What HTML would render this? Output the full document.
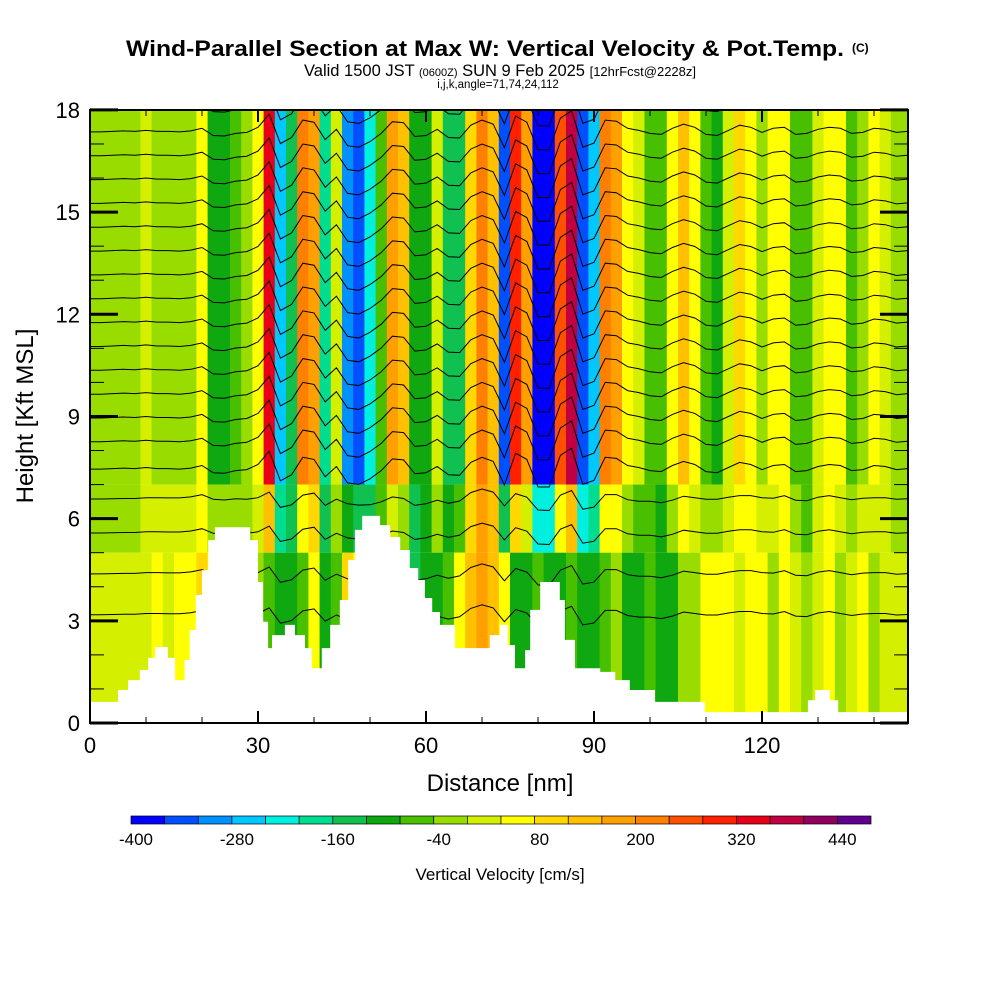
<!DOCTYPE html>
<html><head><meta charset="utf-8"><style>
body{margin:0;background:#fff;}
svg{display:block;font-family:"Liberation Sans",sans-serif;}
</style></head><body>
<svg id="c" width="1000" height="1000" viewBox="0 0 1000 1000">
<text x="126" y="56" font-size="22" font-weight="bold" textLength="718" lengthAdjust="spacingAndGlyphs">Wind-Parallel Section at Max W: Vertical Velocity &amp; Pot.Temp.</text>
<text x="852" y="52" font-size="12" font-weight="bold">(C)</text>
<text x="500" y="76" text-anchor="middle" font-size="16.5">Valid 1500 JST <tspan font-size="11">(0600Z)</tspan> SUN 9 Feb 2025 <tspan font-size="13">[12hrFcst@2228z]</tspan></text>
<text x="498" y="88" text-anchor="middle" font-size="11.5">i,j,k,angle=71,74,24,112</text>
<defs><clipPath id="pc"><rect x="90" y="110" width="818" height="613"/></clipPath></defs>
<g id="heat" clip-path="url(#pc)"></g>
<g id="cont" clip-path="url(#pc)"></g>
<path id="terrain" fill="#fff"/>
<g id="axes"></g>
<rect x="90" y="110" width="818" height="613" fill="none" stroke="#000" stroke-width="2"/>
<text x="500" y="791" text-anchor="middle" font-size="24">Distance [nm]</text>
<text transform="translate(33,416) rotate(-90)" text-anchor="middle" font-size="24">Height [Kft MSL]</text>
<g id="cbar"></g>
<text x="500" y="880" text-anchor="middle" font-size="17">Vertical Velocity [cm/s]</text>
</svg>
<script>
const dists=[0,2,4,6,8,10,12,14,16,18,20,22,24,26,28,30,32,34,36,38,40,42,44,46,48,50,52,54,56,58,60,62,64,66,68,70,72,74,76,78,80,82,84,86,88,90,92,94,96,98,100,102,104,106,108,110,112,114,116,118,120,122,124,126,128,130,132,134,136,138,140,142,144,146];
const wUpper=[-30,-30,-20,-10,-20,0,-20,-20,-30,-10,40,-100,-110,-60,-40,60,320,-260,-140,200,160,-180,20,-300,-330,-220,-60,170,150,-120,-100,20,-140,-150,100,200,120,-340,280,160,-380,-380,240,380,-330,-250,200,180,40,0,-60,-80,40,120,60,-80,-100,0,100,60,-40,40,60,-80,-60,20,60,40,-60,-40,40,20,-40,-20];
const wLower=[0,0,0,0,10,20,40,30,40,60,100,60,40,40,0,-40,-80,-100,-120,-80,40,-100,-60,80,60,-40,-80,-120,-160,-160,-120,-100,-60,40,120,160,120,40,-100,-120,-80,-100,-120,-80,-100,-100,-60,-40,-100,-120,-60,-100,-120,-40,-40,40,60,40,0,40,60,-40,40,0,-40,20,40,-20,0,40,-20,0,0,0];
const terrD=[0,5,6.8,8.9,10.4,11.6,13.9,15.2,16.9,17.8,18.9,20,21.1,22.3,28.6,30,30.9,31.8,32.5,34.8,36.6,38.4,39.6,41.4,42.9,44.6,46.1,47.3,48.6,51.8,53.6,55.4,57.1,58.6,59.8,61.1,62.5,65.2,71.4,73.2,74.6,75.9,77.7,78.6,80.4,83.9,84.8,86.6,91.1,93.8,96.4,100.9,109.8,128.2,129.5,132.1,133.6];
const terrH=[0.62,0.97,1.26,1.56,1.91,2.23,1.91,1.26,1.85,2.73,3.76,4.49,5.37,5.75,5.37,4.14,2.97,2.2,2.58,2.88,2.58,2.2,1.61,2.2,2.88,3.61,4.79,5.67,6.08,5.81,5.46,5.08,4.55,4.2,3.67,3.26,2.88,2.2,2.58,2.88,2.29,1.61,2.14,3.32,4.14,3.61,2.44,1.61,1.5,1.26,0.97,0.62,0.32,0.67,0.97,0.67,0.32];
const thetaLevels=[3.2,4.4,5.6,6.6,7.5,8.3,9.0,9.7,10.4,11.1,11.8,12.5,13.2,13.9,14.6,15.3,16.0,16.7,17.4,18.1];
const cbValues=[-400,-360,-320,-280,-240,-200,-160,-120,-80,-40,0,40,80,120,160,200,240,280,320,360,400,440];
const cbColors=["#0000ff","#0050ff","#0090ff","#00c8ff","#00f0e0","#00dc90","#10c050","#10a810","#48c000","#98dc00","#d4f000","#ffff00","#ffd800","#ffc000","#ffa000","#ff8000","#ff5000","#ff2000","#e80018","#c00040","#900060","#600090"];
const cbLabels=[-400,-280,-160,-40,80,200,320,440];
const xTicks=[0,30,60,90,120];
const yTicks=[0,3,6,9,12,15,18];

const NS="http://www.w3.org/2000/svg";
const X=d=>90+d*5.6, Y=h=>723-h*34.06;
function col(v){let i=Math.floor((v+400)/40);i=Math.max(0,Math.min(21,i));return cbColors[i];}
function mk(t,a,p){const e=document.createElementNS(NS,t);for(const k in a)e.setAttribute(k,a[k]);p.appendChild(e);return e;}
const heat=document.getElementById('heat');
dists.forEach((d,i)=>{
  const x0=X(d-1),w=5.6*2+0.6;
  const r1=mk('rect',{x:x0,y:Y(18),width:w,height:Y(7)-Y(18),fill:col(wUpper[i])},heat);
  
  
  const mid=(wUpper[i]+wLower[i])/2;
  const r2=mk('rect',{x:x0,y:Y(7),width:w,height:Y(5)-Y(7),fill:col(mid)},heat);
  
  
  const r3=mk('rect',{x:x0,y:Y(5),width:w,height:Y(0)-Y(5)+2,fill:col(wLower[i])},heat);
  
  
});
const cont=document.getElementById('cont');
thetaLevels.forEach(h=>{
  let p='';
  dists.forEach((d,i)=>{const v=h>7?wUpper[i]:(wUpper[i]+wLower[i])/2;const yy=Y(h+v/400*0.6);p+=(i?'L':'M')+X(d).toFixed(1)+','+yy.toFixed(1);});
  const e=mk('path',{d:p,fill:'none',stroke:'#000','stroke-width':1},cont);
  
  
});
let tp='M'+X(0)+','+(Y(0)+2);
terrD.forEach((d,i)=>{const d2=i<terrD.length-1?terrD[i+1]:146.5;
  tp+='L'+X(d).toFixed(1)+','+Y(terrH[i]).toFixed(1)+'L'+X(d2).toFixed(1)+','+Y(terrH[i]).toFixed(1);});
tp+='L'+X(146.5)+','+(Y(0)+2)+'Z';
document.getElementById('terrain').setAttribute('d',tp);
const ax=document.getElementById('axes');
for(let d=0;d<=145;d+=10){const big=d%30===0;
  mk('line',{x1:X(d),x2:X(d),y1:723,y2:723-(big?12:6),stroke:'#000','stroke-width':big?2:1},ax);
  mk('line',{x1:X(d),x2:X(d),y1:110,y2:110+(big?12:6),stroke:'#000','stroke-width':big?2:1},ax);}
for(let h=0;h<=18;h++){const big=h%3===0;
  mk('line',{x1:90,x2:90+(big?28:14),y1:Y(h),y2:Y(h),stroke:'#000','stroke-width':big?3:1},ax);
  mk('line',{x1:908,x2:908-(big?28:14),y1:Y(h),y2:Y(h),stroke:'#000','stroke-width':big?3:1},ax);}
xTicks.forEach(d=>{const t=mk('text',{x:X(d),y:753,'text-anchor':'middle','font-size':22},ax);t.textContent=d;
  
  });
yTicks.forEach(h=>{const t=mk('text',{x:80,y:Y(h)+8,'text-anchor':'end','font-size':22},ax);t.textContent=h;
  
  });
const cb=document.getElementById('cbar');
const cx0=131,cw=(871-131)/cbValues.length;
cbValues.forEach((v,i)=>{const r=mk('rect',{x:cx0+i*cw,y:816,width:cw,height:8,fill:cbColors[i],stroke:'#000','stroke-width':0.7},cb);
  
  });
cbLabels.forEach(v=>{const i=cbValues.indexOf(v);const t=mk('text',{x:cx0+i*cw+5,y:845,'text-anchor':'middle','font-size':17},cb);t.textContent=v;
  
  });
</script>
</body></html>
